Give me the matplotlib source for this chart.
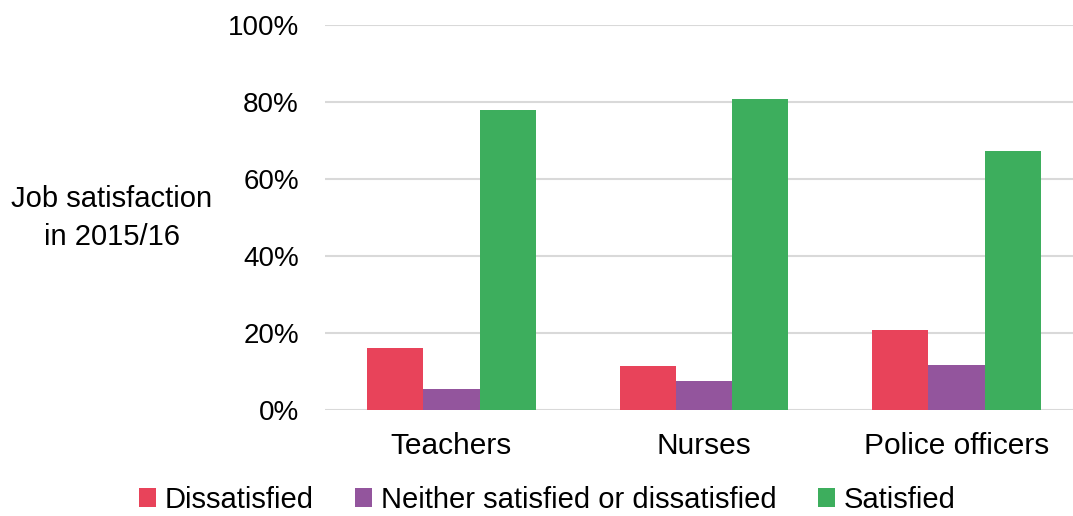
import numpy as np
import matplotlib.pyplot as plt
from matplotlib.ticker import PercentFormatter

plt.rcParams['font.family'] = ['Liberation Sans', 'DejaVu Sans']

categories = ['Teachers', 'Nurses', 'Police officers']
series = ['Dissatisfied', 'Neither satisfied or dissatisfied', 'Satisfied']
dissatisfied = [16.0, 11.4, 20.7]
neither = [5.4, 7.4, 11.6]
satisfied = [78.1, 80.8, 67.3]
colors = ['#E8435A', '#93559D', '#3DAE5D']

values = [dissatisfied, neither, satisfied]

fig = plt.figure(figsize=(10.73, 5.16), dpi=100)
ax = fig.add_axes([0.3031, 0.206, 0.706, 0.7446])

x = np.arange(len(categories))
w = 0.222
for i, (name, vals) in enumerate(zip(series, values)):
    ax.bar(x + (i - 1)*w, vals, w, color=colors[i], label=name, zorder=3)

ax.set_xlim(-0.5, 2.5)
ax.set_ylim(0, 100)
ax.set_yticks(range(0, 101, 20))
ax.yaxis.set_major_formatter(PercentFormatter(decimals=0))
ax.set_xticks(x)
ax.set_xticklabels(categories)
ax.tick_params(axis='both', length=0)
ax.tick_params(axis='y', pad=19, labelsize=20)
ax.tick_params(axis='x', pad=16, labelsize=21.5)
ax.grid(axis='y', color='#D9D9D9', linewidth=1.5, zorder=0)
for s in ax.spines.values():
    s.set_visible(False)

fig.text(0.104, 0.577, 'Job satisfaction\nin 2015/16', ha='center', va='center',
         fontsize=21, linespacing=1.45)

fig.legend(loc='center', bbox_to_anchor=(0.51, 0.031), ncol=3, frameon=False,
           fontsize=21, handlelength=0.6, handleheight=0.6, handletextpad=0.3,
           columnspacing=1.4)

plt.savefig('out.png', dpi=100)
